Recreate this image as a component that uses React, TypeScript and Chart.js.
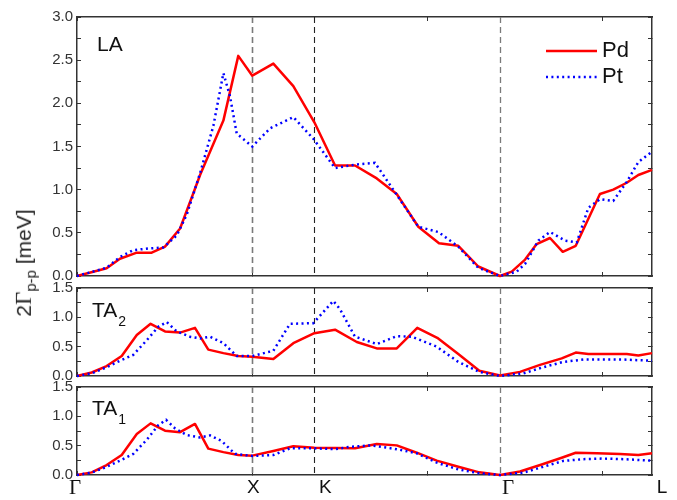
import React, { useEffect, useRef } from 'react';
import { Chart, registerables } from 'chart.js';

Chart.register(...registerables);

// Symmetry points along the path (in units of the Γ–X distance)
const symPositions = [0, 1, 1.354, 2.414, 3.28];
const symLabels = ['Γ', 'X', 'K', 'Γ', 'L'];
const seriesNames = ['Pd', 'Pt'];

// LA branch
const laPdX = [0, 0.169, 0.245, 0.341, 0.426, 0.502, 0.588, 0.662, 0.702, 0.835, 0.92, 1.0, 1.12, 1.234, 1.354, 1.472, 1.586, 1.71, 1.824, 1.947, 2.065, 2.175, 2.289, 2.413, 2.48, 2.556, 2.622, 2.698, 2.771, 2.845, 2.983, 3.059, 3.136, 3.202, 3.28];
const laPdY = [0, 0.09, 0.2, 0.27, 0.27, 0.34, 0.55, 0.95, 1.17, 1.8, 2.55, 2.32, 2.46, 2.2, 1.78, 1.28, 1.28, 1.13, 0.95, 0.57, 0.38, 0.35, 0.11, 0, 0.05, 0.19, 0.37, 0.44, 0.28, 0.35, 0.95, 1.0, 1.08, 1.17, 1.23];
const laPtX = [0, 0.169, 0.245, 0.321, 0.416, 0.492, 0.569, 0.626, 0.702, 0.778, 0.835, 0.873, 0.911, 1.0, 1.101, 1.234, 1.348, 1.472, 1.586, 1.7, 1.824, 1.947, 2.061, 2.175, 2.289, 2.413, 2.508, 2.556, 2.632, 2.698, 2.784, 2.851, 2.917, 2.983, 3.059, 3.136, 3.202, 3.28];
const laPtY = [0, 0.095, 0.22, 0.3, 0.32, 0.33, 0.47, 0.71, 1.19, 1.74, 2.35, 2.08, 1.65, 1.5, 1.71, 1.84, 1.59, 1.25, 1.29, 1.31, 0.94, 0.57, 0.51, 0.34, 0.095, 0, 0.05, 0.14, 0.41, 0.51, 0.41, 0.39, 0.79, 0.89, 0.87, 1.09, 1.32, 1.44];

// TA2 branch
const ta2PdX = [0, 0.084, 0.169, 0.255, 0.341, 0.42, 0.502, 0.588, 0.673, 0.749, 0.835, 0.92, 1.0, 1.12, 1.234, 1.354, 1.472, 1.596, 1.71, 1.824, 1.941, 2.055, 2.175, 2.295, 2.413, 2.527, 2.641, 2.765, 2.845, 2.917, 3.022, 3.136, 3.202, 3.28];
const ta2PdY = [0, 0.06, 0.17, 0.34, 0.7, 0.89, 0.76, 0.74, 0.82, 0.45, 0.39, 0.34, 0.33, 0.29, 0.56, 0.73, 0.79, 0.58, 0.47, 0.47, 0.82, 0.65, 0.375, 0.09, 0.01, 0.07, 0.19, 0.3, 0.4, 0.375, 0.375, 0.375, 0.35, 0.39];
const ta2PtX = [0, 0.084, 0.169, 0.245, 0.321, 0.398, 0.464, 0.512, 0.569, 0.645, 0.702, 0.759, 0.835, 0.911, 1.0, 1.12, 1.215, 1.348, 1.462, 1.5, 1.586, 1.71, 1.824, 1.909, 2.052, 2.175, 2.295, 2.413, 2.546, 2.66, 2.774, 2.888, 3.002, 3.116, 3.28];
const ta2PtY = [0, 0.045, 0.15, 0.26, 0.36, 0.61, 0.84, 0.92, 0.76, 0.67, 0.64, 0.67, 0.56, 0.34, 0.34, 0.43, 0.89, 0.9, 1.28, 1.14, 0.67, 0.545, 0.68, 0.67, 0.5, 0.24, 0.07, 0, 0.045, 0.15, 0.24, 0.28, 0.28, 0.28, 0.26];

// TA1 branch
const ta1PdX = [0, 0.084, 0.169, 0.255, 0.341, 0.42, 0.502, 0.588, 0.673, 0.749, 0.835, 0.92, 1.0, 1.12, 1.234, 1.354, 1.472, 1.586, 1.71, 1.824, 1.938, 2.052, 2.175, 2.295, 2.413, 2.527, 2.651, 2.765, 2.845, 2.965, 3.098, 3.202, 3.28];
const ta1PdY = [0, 0.045, 0.17, 0.34, 0.7, 0.88, 0.755, 0.73, 0.87, 0.45, 0.39, 0.34, 0.33, 0.41, 0.49, 0.465, 0.46, 0.455, 0.53, 0.505, 0.38, 0.245, 0.14, 0.045, 0, 0.06, 0.18, 0.295, 0.38, 0.37, 0.36, 0.34, 0.37];
const ta1PtX = [0, 0.084, 0.169, 0.245, 0.321, 0.398, 0.464, 0.508, 0.559, 0.626, 0.702, 0.759, 0.825, 0.901, 1.0, 1.12, 1.215, 1.348, 1.472, 1.557, 1.681, 1.824, 1.938, 2.052, 2.175, 2.295, 2.413, 2.546, 2.66, 2.774, 2.888, 3.002, 3.116, 3.28];
const ta1PtY = [0, 0.04, 0.14, 0.245, 0.36, 0.6, 0.85, 0.94, 0.795, 0.68, 0.64, 0.675, 0.58, 0.36, 0.325, 0.34, 0.455, 0.455, 0.44, 0.48, 0.505, 0.44, 0.37, 0.21, 0.095, 0.03, 0, 0.04, 0.14, 0.24, 0.27, 0.28, 0.27, 0.245];

const W = 677;
const H = 500;
const SANS = '"Liberation Sans", Arial, Helvetica, sans-serif';
const SERIF = '"Liberation Serif", "Times New Roman", serif';
const AXIS = '#333333';

const zip = (xs: number[], ys: number[]) => xs.map((x, i) => ({ x, y: ys[i] }));

const panels = [
  { key: 'LA', pdX: laPdX, pdY: laPdY, ptX: laPtX, ptY: laPtY, yMax: 3, top: 13, bottom: 276, label: 'LA', sub: '', labelDx: 20, labelDy: 34, legend: true, xLabels: false },
  { key: 'TA2', pdX: ta2PdX, pdY: ta2PdY, ptX: ta2PtX, ptY: ta2PtY, yMax: 1.5, top: 288, bottom: 376, label: 'TA', sub: '2', labelDx: 15, labelDy: 29, legend: false, xLabels: false },
  { key: 'TA1', pdX: ta1PdX, pdY: ta1PdY, ptX: ta1PtX, ptY: ta1PtY, yMax: 1.5, top: 387, bottom: 475, label: 'TA', sub: '1', labelDx: 15, labelDy: 28, legend: false, xLabels: true },
];

// guide line styles for X, K, Γ
const guideColors = ['', '#7a7a7a', '#222222', '#7a7a7a', ''];
const guideWidths = [0, 1.6, 1.1, 1.3, 0];
const labelShift = [-2, 1, 11, 8, 10];

const decorPlugin = {
  id: 'decor',
  beforeDatasetsDraw(chart: any) {
    const { ctx, chartArea } = chart;
    const xs = chart.scales.x;
    ctx.save();
    ctx.setLineDash([6, 4]);
    for (let i = 1; i < symPositions.length - 1; i++) {
      const px = Math.round(xs.getPixelForValue(symPositions[i])) + 0.5;
      ctx.strokeStyle = guideColors[i];
      ctx.lineWidth = guideWidths[i];
      ctx.beginPath();
      ctx.moveTo(px, chartArea.top);
      ctx.lineTo(px, chartArea.bottom);
      ctx.stroke();
    }
    ctx.restore();
  },
  afterDraw(chart: any, _args: any, opts: any) {
    const { ctx, chartArea } = chart;
    ctx.save();
    // panel label
    ctx.fillStyle = '#111';
    ctx.textBaseline = 'alphabetic';
    ctx.textAlign = 'left';
    ctx.font = `21px ${SANS}`;
    const x0 = chartArea.left + opts.labelDx;
    const y0 = chartArea.top + opts.labelDy;
    ctx.fillText(opts.label, x0, y0);
    if (opts.sub) {
      const w = ctx.measureText(opts.label).width;
      ctx.font = `14px ${SANS}`;
      ctx.fillText(opts.sub, x0 + w + 1, y0 + 9);
    }
    // legend
    if (opts.legend) {
      chart.data.datasets.forEach((ds: any, i: number) => {
        const y = chartArea.top + 34 + i * 26;
        ctx.save();
        ctx.strokeStyle = ds.borderColor;
        ctx.lineWidth = ds.borderWidth;
        ctx.setLineDash(ds.borderDash || []);
        ctx.beginPath();
        ctx.moveTo(chartArea.right - 106, y);
        ctx.lineTo(chartArea.right - 55, y);
        ctx.stroke();
        ctx.restore();
        ctx.font = `22px ${SANS}`;
        ctx.textBaseline = 'middle';
        ctx.fillStyle = '#111';
        ctx.fillText(ds.label, chartArea.right - 50, y);
      });
    }
    // x labels
    if (opts.xLabels) {
      const xs = chart.scales.x;
      ctx.textAlign = 'center';
      ctx.textBaseline = 'middle';
      ctx.fillStyle = '#111';
      symLabels.forEach((lab, i) => {
        ctx.font = lab === 'Γ' ? `21px ${SERIF}` : `19px ${SANS}`;
        ctx.fillText(lab, xs.getPixelForValue(symPositions[i]) + labelShift[i], chartArea.bottom + 13);
      });
    }
    ctx.restore();
  },
};

function buildConfig(p: any): any {
  const xAxis = (position: string) => ({
    type: 'linear',
    position,
    min: 0,
    max: symPositions[symPositions.length - 1],
    ticks: { display: false, stepSize: 1, includeBounds: false, autoSkip: false },
    grid: { drawOnChartArea: false, drawTicks: true, tickLength: -4, tickColor: AXIS, tickWidth: 1 },
    border: { display: true, color: AXIS, width: 1.5 },
    afterFit: (s: any) => { s.height = 0; },
  });
  const yTicksLabel = (v: number) => (Math.abs(v * 2 - Math.round(v * 2)) < 1e-6 ? v.toFixed(1) : '');
  return {
    type: 'line',
    data: {
      datasets: [
        { label: seriesNames[0], data: zip(p.pdX, p.pdY), borderColor: '#ff0000', borderWidth: 2.5, pointRadius: 0, tension: 0, fill: false, clip: false, borderJoinStyle: 'round', order: 1 },
        { label: seriesNames[1], data: zip(p.ptX, p.ptY), borderColor: '#0000ff', borderWidth: 2.5, borderDash: [2, 3.4], pointRadius: 0, tension: 0, fill: false, clip: false, order: 0 },
      ],
    },
    options: {
      responsive: false,
      animation: false,
      events: [],
      layout: { padding: { left: 0, right: W - 652, top: p.top, bottom: H - p.bottom } },
      plugins: {
        legend: { display: false },
        tooltip: { enabled: false },
        decor: { label: p.label, sub: p.sub, labelDx: p.labelDx, labelDy: p.labelDy, legend: p.legend, xLabels: p.xLabels },
      },
      scales: {
        x: xAxis('bottom'),
        x2: xAxis('top'),
        y: {
          type: 'linear',
          position: 'left',
          min: 0,
          max: p.yMax,
          ticks: { stepSize: 0.25, autoSkip: false, callback: yTicksLabel, font: { family: SANS, size: 15 }, color: AXIS, padding: 8 },
          grid: { drawOnChartArea: false, tickLength: -4, tickColor: AXIS, tickWidth: 1 },
          border: { color: AXIS, width: 1.5 },
          afterFit: (s: any) => { s.width = 77; },
        },
        y2: {
          type: 'linear',
          position: 'right',
          min: 0,
          max: p.yMax,
          ticks: { stepSize: 0.25, autoSkip: false, display: false },
          grid: { drawOnChartArea: false, tickLength: -4, tickColor: AXIS, tickWidth: 1 },
          border: { color: AXIS, width: 1.5 },
          afterFit: (s: any) => { s.width = 0; },
        },
      },
    },
    plugins: [decorPlugin],
  };
}

export default function App() {
  const r0 = useRef<HTMLCanvasElement>(null);
  const r1 = useRef<HTMLCanvasElement>(null);
  const r2 = useRef<HTMLCanvasElement>(null);
  const refs = [r0, r1, r2];

  useEffect(() => {
    const charts = panels.map((p, i) => new Chart(refs[i].current as HTMLCanvasElement, buildConfig(p)));
    return () => charts.forEach((c) => c.destroy());
  }, []);

  return (
    <div style={{ position: 'absolute', left: 0, top: 0, width: W, height: H, background: '#fff', overflow: 'hidden' }}>
      {panels.map((p, i) => (
        <canvas key={p.key} ref={refs[i]} width={W} height={H} style={{ position: 'absolute', left: 0, top: 0 }} />
      ))}
      <div
        style={{
          position: 'absolute',
          left: 25,
          top: 263,
          transform: 'translate(-50%, -50%) rotate(-90deg)',
          whiteSpace: 'nowrap',
          fontFamily: SANS,
          fontSize: 21,
          color: '#222',
          lineHeight: 1,
        }}
      >
        2<span style={{ fontFamily: SERIF, fontSize: 23 }}>Γ</span>
        <sub style={{ fontSize: 15 }}>p-p</sub> [meV]
      </div>
    </div>
  );
}
